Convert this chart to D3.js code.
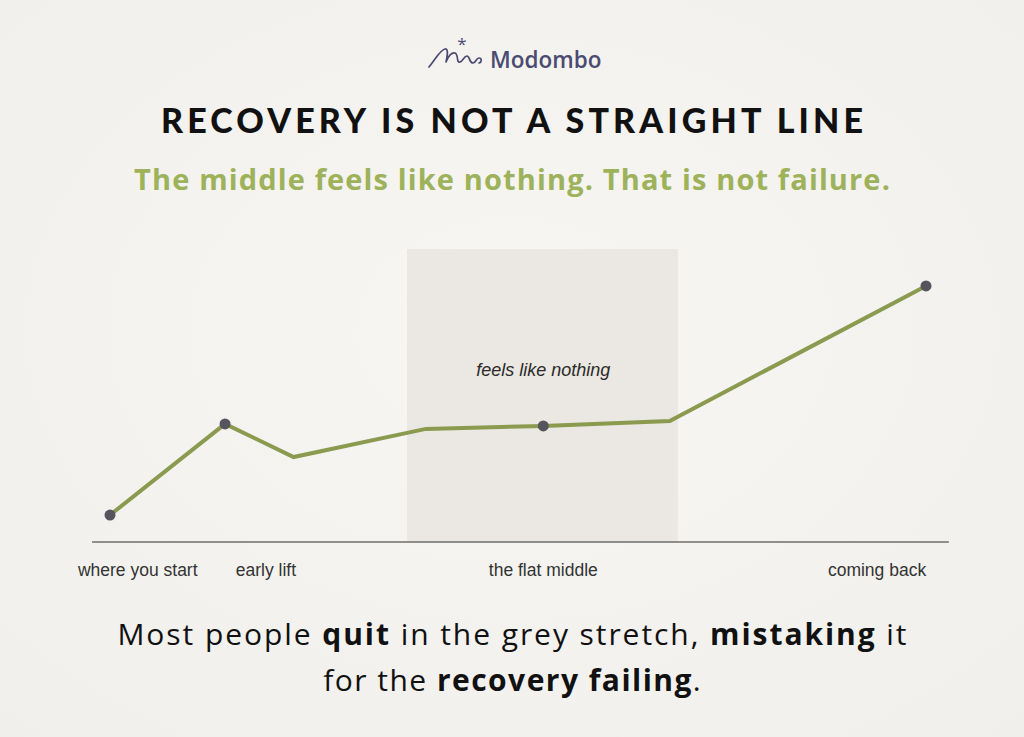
<!DOCTYPE html>
<html>
<head>
<meta charset="utf-8">
<script src="https://cdn.jsdelivr.net/npm/d3@7"></script>
<style>
  html, body { margin: 0; padding: 0; background: #f3f2ef; }
  svg { display: block; }
</style>
</head>
<body>
<svg id="chart" width="1024" height="737"></svg>
<script>
// stage position along the journey (0-100) and felt progress (0-100)
var stages   = [0, 14.1, 22.5, 38.7, 53.1, 68.6, 100];
var progress = [9.2, 40.3, 29, 38.6, 39.6, 41.3, 87.4];
var marked   = [true, true, false, false, true, false, true];

var tickLabels = ["where you start", "early lift", "the flat middle", "coming back"];
var tickAt     = [3.4, 19.1, 53.1, 94];

var flatZone = [36.4, 69.6];

var W = 1024, H = 737;
var svg = d3.select("#chart");

// spread a text out to a given width with letter-spacing
function fitWidth(sel, target) {
  var node = sel.node();
  var w = node.getComputedTextLength();
  var n = node.textContent.length;
  var ls = (target - w) / n;
  sel.style("letter-spacing", ls + "px").attr("dx", ls / 2);
  return sel;
}

// paper background
var defs = svg.append("defs");
var grad = defs.append("radialGradient").attr("id", "paper").attr("cx", "50%").attr("cy", "45%").attr("r", "75%");
grad.append("stop").attr("offset", "0%").attr("stop-color", "#f7f6f3");
grad.append("stop").attr("offset", "100%").attr("stop-color", "#f0efec");
svg.append("rect").attr("width", W).attr("height", H).attr("fill", "url(#paper)");

var x = d3.scaleLinear().domain([0, 100]).range([110, 926]);
var y = d3.scaleLinear().domain([0, 100]).range([542, 249]);

// logo
var logo = svg.append("g");
logo.append("path")
  .attr("d", "M429,67 C435,60 440,50 445,49 C449,48 447,58 446,62 C448,56 452,52 455,53 C459,55 456,63 460,62 C463,61 464,56 467,56 C470,56 469,63 473,63 C476,63 476,58 479,58 C482,58 482,62 479,63")
  .attr("fill", "none").attr("stroke", "#4b4a72").attr("stroke-width", 1.7).attr("stroke-linecap", "round").attr("stroke-linejoin", "round");
logo.append("text").attr("x", 462).attr("y", 50).attr("text-anchor", "middle")
  .style("font", "17px 'Open Sans'").attr("fill", "#4b4a72").text("*");
logo.append("text").attr("x", 490).attr("y", 68)
  .style("font", "600 22.5px 'Open Sans'").attr("fill", "#4b4a72").text("Modombo");

// headings
var title = svg.append("text").attr("x", 512).attr("y", 133).attr("text-anchor", "middle")
  .style("font", "900 34px Lato").attr("fill", "#111")
  .text("RECOVERY IS NOT A STRAIGHT LINE");
fitWidth(title, 706);
var sub = svg.append("text").attr("x", 512).attr("y", 190).attr("text-anchor", "middle")
  .style("font", "700 29px 'Open Sans'").attr("fill", "#9db25a")
  .text("The middle feels like nothing. That is not failure.");
fitWidth(sub, 757);

// grey stretch
svg.append("rect")
  .attr("x", x(flatZone[0])).attr("y", y(100))
  .attr("width", x(flatZone[1]) - x(flatZone[0])).attr("height", y(0) - y(100))
  .attr("fill", "#ebe7e2");
svg.append("text").attr("x", x(53.1)).attr("y", y(56.7)).attr("text-anchor", "middle")
  .style("font", "italic 18px 'Liberation Sans'").attr("fill", "#2a2a2a")
  .text("feels like nothing");

// baseline
svg.append("line")
  .attr("x1", x(-2.2)).attr("x2", x(102.8)).attr("y1", y(0)).attr("y2", y(0))
  .attr("stroke", "#6e6e6e").attr("stroke-width", 1.5);

// tick labels
svg.selectAll(".tick-label").data(tickLabels).enter().append("text")
  .attr("class", "tick-label")
  .attr("x", function (d, i) { return x(tickAt[i]); })
  .attr("y", 576).attr("text-anchor", "middle")
  .style("font", "17.5px 'Liberation Sans'").attr("fill", "#333")
  .text(function (d) { return d; });

// recovery line
var pts = stages.map(function (s, i) { return { s: s, p: progress[i], m: marked[i] }; });
svg.append("path").datum(pts)
  .attr("d", d3.line().x(function (d) { return x(d.s); }).y(function (d) { return y(d.p); }))
  .attr("fill", "none").attr("stroke", "#8a9a4e").attr("stroke-width", 4).attr("stroke-linejoin", "miter");

svg.selectAll(".dot").data(pts.filter(function (d) { return d.m; })).enter().append("circle")
  .attr("class", "dot")
  .attr("cx", function (d) { return x(d.s); }).attr("cy", function (d) { return y(d.p); })
  .attr("r", 5.5).attr("fill", "#56555e");

// takeaway
var lines = [
  [["Most people ", 400], ["quit", 700], [" in the grey stretch, ", 400], ["mistaking", 700], [" it", 400]],
  [["for the ", 400], ["recovery failing", 700], [".", 400]]
];
var widths = [791, 379];
lines.forEach(function (parts, li) {
  var t = svg.append("text").attr("x", 512).attr("y", 645 + li * 46).attr("text-anchor", "middle")
    .style("font-family", "'Open Sans'").style("font-size", "30px").attr("fill", "#111");
  parts.forEach(function (p) {
    t.append("tspan").style("font-weight", p[1]).text(p[0]);
  });
  fitWidth(t, widths[li]);
});
</script>
</body>
</html>
